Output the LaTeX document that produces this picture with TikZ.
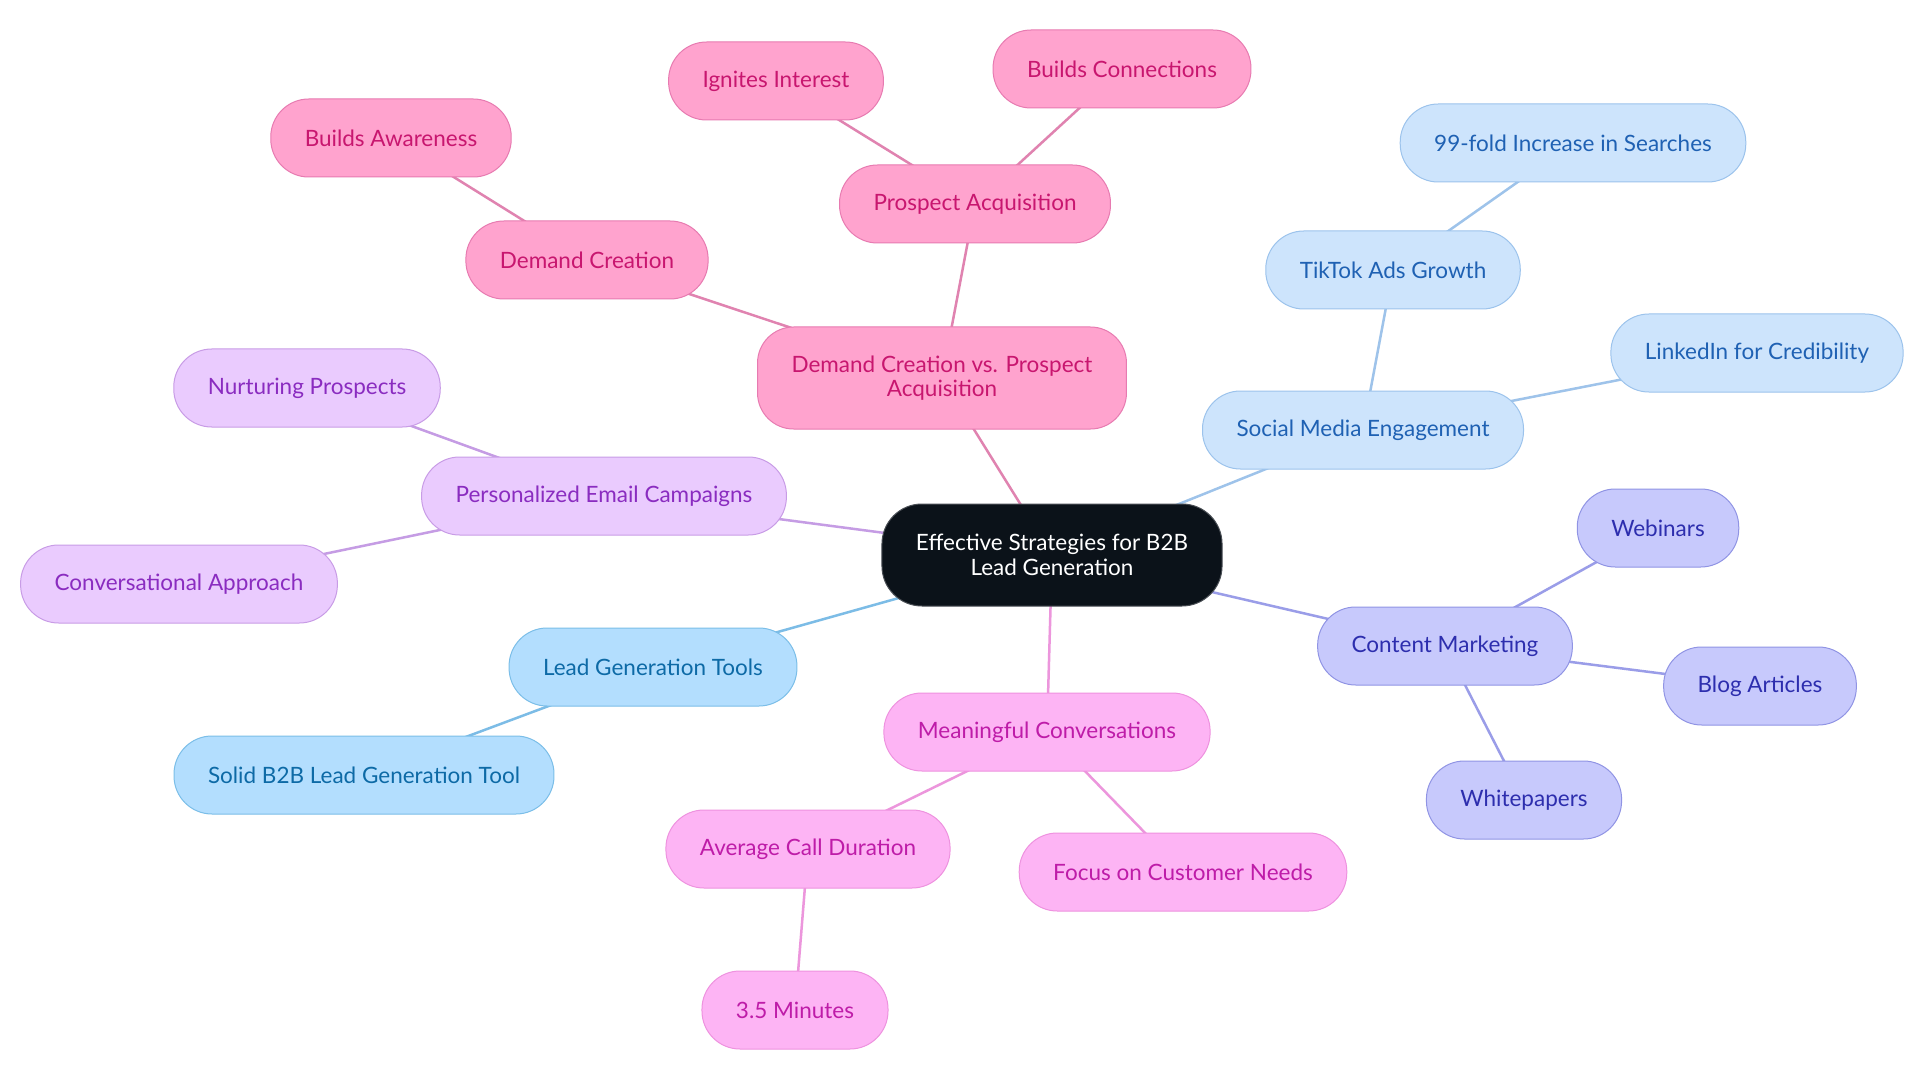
\documentclass[tikz,border=0pt]{standalone}
\usepackage{fontspec}
\setmainfont{Lato}
\usepackage{xcolor}
\usetikzlibrary{positioning, backgrounds}
\definecolor{rootbg}{HTML}{0B1219}
\definecolor{rootdraw}{HTML}{4A4F55}
\definecolor{pinkbg}{HTML}{FFA3CE}
\definecolor{pinkdraw}{HTML}{E77BB1}
\definecolor{pinktext}{HTML}{C8166F}
\definecolor{pinkline}{HTML}{E083B0}
\definecolor{skybg}{HTML}{CDE4FC}
\definecolor{skydraw}{HTML}{9CC3EC}
\definecolor{skytext}{HTML}{1F61B3}
\definecolor{skyline}{HTML}{9EC3EA}
\definecolor{indigobg}{HTML}{C7C9FC}
\definecolor{indigodraw}{HTML}{9094E4}
\definecolor{indigotext}{HTML}{2D2EAE}
\definecolor{indigoline}{HTML}{9A9DE8}
\definecolor{magbg}{HTML}{FDB4F4}
\definecolor{magdraw}{HTML}{EE92DF}
\definecolor{magtext}{HTML}{BE1CA8}
\definecolor{magline}{HTML}{EC96DC}
\definecolor{toolbg}{HTML}{B3DEFE}
\definecolor{tooldraw}{HTML}{7BBEE8}
\definecolor{tooltext}{HTML}{0D6AA6}
\definecolor{toolline}{HTML}{7CBCE6}
\definecolor{lavbg}{HTML}{EACBFE}
\definecolor{lavdraw}{HTML}{C89CE6}
\definecolor{lavtext}{HTML}{8A2CC0}
\definecolor{lavline}{HTML}{C59CE4}

\begin{document}
\begin{tikzpicture}[x=1pt, y=-1pt,
        mind/.style={rectangle, draw, rounded corners=38pt, minimum height=78pt, inner xsep=34pt, align=center, font=\fontsize{22.5}{24.5}\selectfont, line width=1pt},
        rootbox/.style={mind, fill=rootbg, draw=rootdraw, text=white, minimum height=102pt, rounded corners=40pt},
        pinkbox/.style={mind, fill=pinkbg, draw=pinkdraw, text=pinktext},
        skybox/.style={mind, fill=skybg, draw=skydraw, text=skytext},
        indigobox/.style={mind, fill=indigobg, draw=indigodraw, text=indigotext},
        magbox/.style={mind, fill=magbg, draw=magdraw, text=magtext},
        toolbox/.style={mind, fill=toolbg, draw=tooldraw, text=tooltext},
        lavbox/.style={mind, fill=lavbg, draw=lavdraw, text=lavtext},
        link/.style={line width=2.5pt}]
        \node[rootbox] (root) at (1052,555) {Effective Strategies for B2B\\Lead Generation};

        % demand creation branch
        \node[pinkbox, minimum height=102pt, rounded corners=36pt] (dcpa) at (942,378) {Demand Creation vs. Prospect\\Acquisition};
        \node[pinkbox] (dc) at (587,260) {Demand Creation};
        \node[pinkbox] (aware) at (391,138) {Builds Awareness};
        \node[pinkbox] (pa) at (975,204) {Prospect Acquisition};
        \node[pinkbox] (ignite) at (776,81) {Ignites Interest};
        \node[pinkbox] (connect) at (1122,69) {Builds Connections};

        % social media branch
        \node[skybox] (social) at (1363,430) {Social Media Engagement};
        \node[skybox] (tiktok) at (1393,270) {TikTok Ads Growth};
        \node[skybox] (search) at (1573,143) {99-fold Increase in Searches};
        \node[skybox] (linkedin) at (1757,353) {LinkedIn for Credibility};

        % content branch
        \node[indigobox] (content) at (1445,646) {Content Marketing};
        \node[indigobox] (webinar) at (1658,528) {Webinars};
        \node[indigobox] (blog) at (1760,686) {Blog Articles};
        \node[indigobox] (paper) at (1524,800) {Whitepapers};

        % conversations branch
        \node[magbox] (talk) at (1047,732) {Meaningful Conversations};
        \node[magbox] (call) at (808,849) {Average Call Duration};
        \node[magbox] (minutes) at (795,1010) {3.5 Minutes};
        \node[magbox] (needs) at (1183,872) {Focus on Customer Needs};

        % tools branch
        \node[toolbox] (tools) at (653,667) {Lead Generation Tools};
        \node[toolbox] (solid) at (364,775) {Solid B2B Lead Generation Tool};

        % email branch
        \node[lavbox] (email) at (604,496) {Personalized Email Campaigns};
        \node[lavbox] (nurture) at (307,388) {Nurturing Prospects};
        \node[lavbox] (chat) at (179,584) {Conversational Approach};

        \begin{scope}[on background layer]
            \path[use as bounding box, fill=white] (0,0) rectangle (1920,1083);
            \draw[link, pinkline] (root.center) -- (dcpa.center);
            \draw[link, pinkline] (dcpa.center) -- (dc.center);
            \draw[link, pinkline] (dc.center) -- (aware.center);
            \draw[link, pinkline] (dcpa.center) -- (pa.center);
            \draw[link, pinkline] (pa.center) -- (ignite.center);
            \draw[link, pinkline] (pa.center) -- (connect.center);
            \draw[link, skyline] (root.center) -- (social.center);
            \draw[link, skyline] (social.center) -- (tiktok.center);
            \draw[link, skyline] (tiktok.center) -- (search.center);
            \draw[link, skyline] (social.center) -- (linkedin.center);
            \draw[link, indigoline] (root.center) -- (content.center);
            \draw[link, indigoline] (content.center) -- (webinar.center);
            \draw[link, indigoline] (content.center) -- (blog.center);
            \draw[link, indigoline] (content.center) -- (paper.center);
            \draw[link, magline] (root.center) -- (talk.center);
            \draw[link, magline] (talk.center) -- (call.center);
            \draw[link, magline] (call.center) -- (minutes.center);
            \draw[link, magline] (talk.center) -- (needs.center);
            \draw[link, toolline] (root.center) -- (tools.center);
            \draw[link, toolline] (tools.center) -- (solid.center);
            \draw[link, lavline] (root.center) -- (email.center);
            \draw[link, lavline] (email.center) -- (nurture.center);
            \draw[link, lavline] (email.center) -- (chat.center);
        \end{scope}
    \end{tikzpicture}
\end{document}
